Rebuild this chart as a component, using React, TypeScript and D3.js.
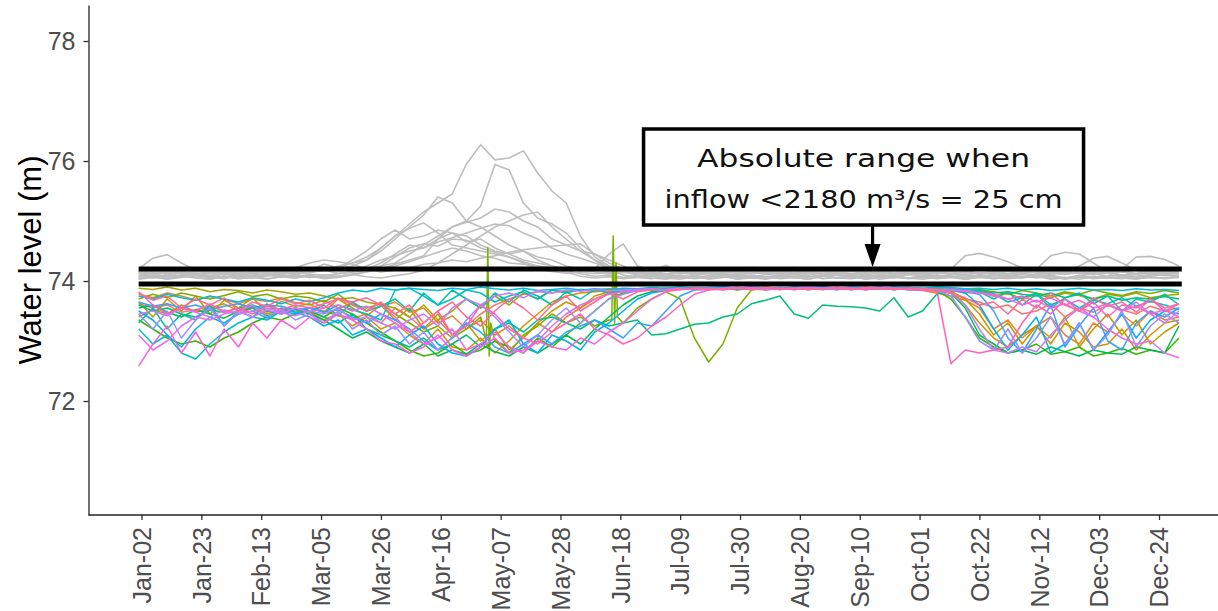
import React, { useEffect, useRef } from 'react';
import * as d3 from 'd3';

// x axis labels, one every 21 days (leap year calendar)
const tickLabels = [
  'Jan-02', 'Jan-23', 'Feb-13', 'Mar-05', 'Mar-26', 'Apr-16', 'May-07', 'May-28', 'Jun-18',
  'Jul-09', 'Jul-30', 'Aug-20', 'Sep-10', 'Oct-01', 'Oct-22', 'Nov-12', 'Dec-03', 'Dec-24',
];
const levelTicks = [72, 74, 76, 78];

// one reading every 5 days, day 1 .. day 366
const readingDays = d3.range(1, 367, 5);

// the "absolute range" band
const rangeLimits = [73.95, 74.2];

// years with high inflow (drawn gray)
const highYear01 = [
  74.10, 74.12, 74.08, 74.14, 74.11, 74.09, 74.13, 74.10, 74.12, 74.08, 74.14, 74.12, 74.15, 74.18, 74.20,
  74.25, 74.35, 74.55, 74.75, 74.95, 75.15, 75.30, 75.45, 75.95, 76.27, 76.02, 76.05, 76.17, 75.80, 75.50, 75.30, 74.75, 74.40, 74.25,
  74.18, 74.15, 74.12, 74.10, 74.13, 74.11, 74.14, 74.12, 74.10, 74.13, 74.15, 74.12, 74.10, 74.14, 74.11, 74.13, 74.12, 74.10, 74.14, 74.12,
  74.11, 74.13, 74.15, 74.12, 74.10, 74.14, 74.12, 74.11, 74.13, 74.10, 74.14, 74.12, 74.15, 74.11, 74.13, 74.10, 74.12, 74.14, 74.11, 74.13,
];
const highYear02 = [
  74.05, 74.08, 74.04, 74.10, 74.06, 74.03, 74.08, 74.05, 74.09, 74.04, 74.07, 74.10, 74.06, 74.08, 74.12, 74.15, 74.20, 74.25,
  74.30, 74.45, 74.60, 74.75, 74.90, 75.00, 75.25, 75.94, 75.85, 75.30, 75.05, 74.95, 74.80, 74.55, 74.35, 74.20,
  74.10, 74.06, 74.04, 74.07, 74.05, 74.08, 74.03, 74.06, 74.09, 74.05, 74.04, 74.07, 74.06, 74.03, 74.08, 74.05, 74.07, 74.04, 74.06, 74.09,
  74.05, 74.03, 74.06, 74.08, 74.05, 74.07, 74.04, 74.06, 74.08, 74.05, 74.07, 74.03, 74.06, 74.08, 74.05, 74.04, 74.07, 74.06, 74.05, 74.08,
];
const highYear03 = [
  74.15, 74.17, 74.14, 74.16, 74.18, 74.15, 74.17, 74.13, 74.16, 74.18, 74.15, 74.17, 74.16, 74.20, 74.25, 74.30,
  74.35, 74.50, 74.70, 74.90, 75.10, 75.40, 75.30, 75.00, 74.90, 74.75, 74.60, 74.50, 74.40, 74.35, 74.25, 74.20,
  74.18, 74.16, 74.15, 74.17, 74.14, 74.16, 74.18, 74.15, 74.17, 74.13, 74.16, 74.18, 74.15, 74.17, 74.14, 74.16, 74.18, 74.15, 74.17, 74.16,
  74.14, 74.18, 74.15, 74.17, 74.16, 74.20,
  74.42, 74.46, 74.40, 74.32, 74.22, 74.17, 74.15, 74.18, 74.16, 74.14, 74.17, 74.15, 74.18, 74.16, 74.14, 74.17,
];
const highYear04 = [
  74.08, 74.11, 74.07, 74.10, 74.13, 74.09, 74.06, 74.11, 74.08, 74.12, 74.09, 74.07, 74.11, 74.10, 74.08, 74.12, 74.15, 74.20, 74.28, 74.35,
  74.42, 74.70, 74.90, 74.98, 75.05, 75.20, 75.15, 75.00, 74.90, 74.70, 74.60, 74.50, 74.35, 74.25, 74.15,
  74.10, 74.08, 74.11, 74.07, 74.09, 74.12, 74.08, 74.10, 74.06, 74.11, 74.09, 74.07, 74.12, 74.08, 74.10, 74.09, 74.07, 74.11, 74.08, 74.10,
  74.12, 74.09, 74.07, 74.10, 74.08, 74.11, 74.09, 74.12, 74.20,
  74.42, 74.48, 74.45, 74.30, 74.15, 74.10, 74.08, 74.11, 74.09, 74.10,
];
const highYear05 = [
  74.13, 74.16, 74.12, 74.15, 74.10, 74.14, 74.17, 74.12, 74.15, 74.13, 74.16, 74.12, 74.14, 74.18,
  74.22, 74.30, 74.40, 74.55, 74.75, 74.88, 74.97, 74.80, 74.60, 74.55, 74.50, 74.45, 74.40, 74.30, 74.20,
  74.16, 74.13, 74.15, 74.12, 74.14, 74.17, 74.13, 74.15, 74.12, 74.16, 74.14, 74.13, 74.15, 74.17, 74.12, 74.14, 74.16, 74.13, 74.15, 74.12,
  74.14, 74.16, 74.13, 74.15, 74.17, 74.12, 74.14, 74.16, 74.13, 74.15, 74.12, 74.14, 74.16, 74.13, 74.15, 74.14, 74.16, 74.25,
  74.38, 74.41, 74.30, 74.18, 74.14, 74.16, 74.13,
];
const highYear06 = [
  74.06, 74.09, 74.05, 74.08, 74.11, 74.07, 74.04, 74.09, 74.06, 74.10, 74.07, 74.05, 74.09, 74.06, 74.08, 74.11, 74.07, 74.05, 74.09, 74.12,
  74.18, 74.30,
  74.45, 74.60, 74.75, 74.90, 75.00, 75.10, 75.15, 74.90, 74.70, 74.50, 74.45, 74.35, 74.25, 74.15,
  74.08, 74.06, 74.09, 74.05, 74.07, 74.10, 74.06, 74.08, 74.05, 74.09, 74.07, 74.06, 74.10, 74.05, 74.08, 74.06, 74.09, 74.07, 74.05, 74.08,
  74.10, 74.06, 74.07, 74.09, 74.05, 74.08, 74.06, 74.10, 74.07, 74.05, 74.09, 74.06, 74.08, 74.20,
  74.40, 74.41, 74.36, 74.25,
];
const highYear07 = [
  74.20, 74.38, 74.44, 74.30, 74.18,
  74.12, 74.15, 74.11, 74.14, 74.16, 74.13, 74.12, 74.15, 74.18, 74.22,
  74.35, 74.50, 74.70, 74.85, 74.70, 74.75, 74.85, 74.80, 74.75, 74.60, 74.50, 74.45, 74.35, 74.30, 74.25, 74.20, 74.18,
  74.15, 74.12, 74.14, 74.16, 74.13, 74.11, 74.15, 74.12, 74.14, 74.16, 74.13, 74.15, 74.12, 74.14, 74.11, 74.16, 74.13, 74.15, 74.12, 74.14,
  74.16, 74.13, 74.15, 74.12, 74.14, 74.11, 74.15, 74.13, 74.16, 74.12, 74.14, 74.15, 74.13, 74.11, 74.14, 74.16, 74.13, 74.15, 74.12, 74.14,
  74.13, 74.15,
];
const highYear08 = [
  74.03, 74.06, 74.04, 74.08, 74.05, 74.03, 74.07, 74.04, 74.06, 74.09, 74.12,
  74.22, 74.30, 74.35, 74.32, 74.28, 74.20,
  74.15, 74.18, 74.22, 74.28, 74.30, 74.35, 74.32, 74.38, 74.42,
  74.48, 74.52, 74.55, 74.58, 74.60, 74.62, 74.45, 74.30, 74.20,
  74.10, 74.05, 74.03, 74.07, 74.04, 74.06, 74.08, 74.03, 74.05, 74.07, 74.04, 74.06, 74.03, 74.08, 74.05, 74.04, 74.07, 74.03, 74.06, 74.05,
  74.08, 74.04, 74.06, 74.03, 74.07, 74.05, 74.04, 74.06, 74.08, 74.03, 74.05, 74.07, 74.04, 74.06, 74.05, 74.03, 74.07, 74.04, 74.06,
];
const highYear09 = [
  74.17, 74.14, 74.16, 74.13, 74.15, 74.18, 74.14, 74.16, 74.13, 74.17, 74.15, 74.14, 74.16, 74.18, 74.13, 74.15, 74.17, 74.20, 74.25, 74.32,
  74.40, 74.48, 74.55, 74.50, 74.42, 74.38, 74.30, 74.28, 74.25, 74.22, 74.20, 74.18, 74.20,
  74.45, 74.62, 74.25, 74.18, 74.26,
  74.15, 74.17, 74.14, 74.16, 74.13, 74.18, 74.15, 74.14, 74.17, 74.13, 74.16, 74.15, 74.18, 74.14, 74.16, 74.13, 74.17, 74.15, 74.14, 74.16,
  74.18, 74.13, 74.15, 74.17, 74.14, 74.16, 74.13, 74.15, 74.18, 74.14, 74.16, 74.15, 74.13, 74.17, 74.14, 74.16,
];
const highYear10 = [
  74.09, 74.05, 74.11, 74.07, 74.10, 74.06, 74.12, 74.08, 74.05, 74.10, 74.07, 74.11, 74.06, 74.09, 74.12, 74.15, 74.20,
  74.30, 74.45, 74.60, 74.55, 74.70, 74.80, 74.65, 74.70, 74.55, 74.45, 74.50, 74.35, 74.25, 74.18,
  74.12, 74.08, 74.10, 74.06, 74.09, 74.11, 74.07, 74.10, 74.05, 74.09, 74.12, 74.07, 74.10, 74.06, 74.08, 74.11, 74.07, 74.09, 74.12, 74.06,
  74.10, 74.08, 74.05, 74.11, 74.09, 74.07, 74.10, 74.12, 74.06, 74.09, 74.08, 74.11, 74.07, 74.10, 74.05, 74.09, 74.12, 74.08, 74.10, 74.06,
  74.09, 74.11, 74.08,
];
const highYear11 = [
  74.14, 74.11, 74.15, 74.12, 74.16, 74.13, 74.10, 74.14, 74.12, 74.15, 74.11, 74.14, 74.18,
  74.28, 74.22, 74.18, 74.25, 74.35, 74.42, 74.50, 74.55, 74.65, 74.72, 74.80, 74.88, 74.95, 74.92, 74.80, 74.70, 74.55, 74.45, 74.38, 74.30,
  74.22, 74.16,
  74.12, 74.15, 74.11, 74.14, 74.13, 74.16, 74.12, 74.10, 74.14, 74.15, 74.11, 74.13, 74.16, 74.12, 74.14, 74.10, 74.15, 74.13, 74.11, 74.14,
  74.16, 74.12, 74.13, 74.15, 74.11, 74.14, 74.12, 74.16, 74.13, 74.11, 74.15, 74.12, 74.14, 74.13, 74.16, 74.11, 74.14, 74.12, 74.15,
];
const highYear12 = [
  74.04, 74.07, 74.03, 74.06, 74.09, 74.05, 74.08, 74.04, 74.06, 74.03, 74.07, 74.05, 74.09, 74.04, 74.06, 74.10, 74.15,
  74.25, 74.40, 74.55, 74.62, 74.58, 74.70, 74.68, 74.55, 74.48, 74.40, 74.32, 74.25, 74.20, 74.15,
  74.08, 74.05, 74.07, 74.04, 74.06, 74.09, 74.05, 74.03, 74.07, 74.05, 74.08, 74.04, 74.06, 74.03, 74.07, 74.05, 74.09, 74.04, 74.06, 74.08,
  74.03, 74.05, 74.07, 74.04, 74.06, 74.05, 74.08, 74.03, 74.06, 74.04, 74.07, 74.05, 74.09, 74.04, 74.06, 74.03, 74.07, 74.05, 74.08, 74.04,
  74.06, 74.05, 74.07,
];

// years with low inflow (drawn in colour)
const lowYear01 = [
  73.62, 73.55, 73.60, 73.48, 73.52, 73.58, 73.50, 73.45, 73.55, 73.60, 73.52, 73.48,
  73.55, 73.50, 73.42, 73.38, 73.45, 73.30,
  73.55, 73.40, 73.20, 73.35, 73.10, 73.25, 73.45, 73.60, 73.70, 73.78, 73.82, 73.80, 73.84, 73.85, 73.83, 73.86, 73.85, 73.87, 73.86, 73.88,
  73.86, 73.88, 73.87, 73.89, 73.88, 73.90, 73.88, 73.87, 73.89, 73.90, 73.88, 73.86, 73.88, 73.89, 73.87, 73.88, 73.86,
  73.85, 73.82, 73.80, 73.70, 73.65,
  73.55, 73.60, 73.45, 73.50, 73.62, 73.40, 73.55, 73.48, 73.60, 73.52, 73.45, 73.58, 73.50, 73.55,
];
const lowYear02 = [
  73.78, 73.72, 73.80, 73.75, 73.68, 73.74, 73.70, 73.62, 73.70, 73.66, 73.72, 73.64,
  73.60, 73.68, 73.55, 73.62, 73.50, 73.58,
  73.65, 73.48, 73.55, 73.30, 73.42, 73.20, 73.35, 73.10, 73.25, 73.05, 73.30, 73.15, 73.40, 73.55, 73.70, 73.80, 73.82, 73.84, 73.86, 73.85,
  73.88, 73.86, 73.89, 73.87, 73.88, 73.86, 73.89, 73.88, 73.87, 73.86, 73.88, 73.87, 73.89, 73.86, 73.88, 73.87, 73.86,
  73.84, 73.80, 73.75, 73.68, 73.55,
  73.20, 73.35, 73.05, 73.25, 73.40, 73.10, 72.95, 73.30, 73.15, 73.45, 73.25, 73.50, 73.35, 73.40,
];
const lowYear03 = [
  73.40, 73.52, 73.45, 73.60, 73.48, 73.55, 73.62, 73.50, 73.58, 73.45, 73.52, 73.55,
  73.48, 73.35, 73.45, 73.25, 73.40, 73.20,
  73.30, 73.10, 72.95, 73.20, 72.90, 72.85, 73.05, 72.80, 73.00, 73.25, 73.45, 73.65, 73.75, 73.80, 73.82, 73.84, 73.85, 73.86, 73.85, 73.87,
  73.87, 73.89, 73.88, 73.86, 73.88, 73.87, 73.85, 73.88, 73.89, 73.87, 73.86, 73.88, 73.87, 73.89, 73.88, 73.86, 73.87,
  73.86, 73.85, 73.84, 73.60, 73.30,
  73.05, 72.90, 73.10, 73.25, 72.95, 73.30, 73.15, 72.90, 72.95, 73.20, 72.85, 73.10, 73.30, 73.35,
];
const lowYear17 = [
  73.65, 73.40, 73.70, 73.50, 73.75, 73.45, 73.68, 73.55, 73.72, 73.48, 73.66, 73.58,
  73.62, 73.48, 73.70, 73.55, 73.42, 73.60,
  73.35, 73.55, 73.20, 73.45, 73.10, 73.30, 73.00, 73.20, 72.85, 73.05, 73.30, 73.50, 73.65, 73.55, 73.75, 73.82, 73.85, 73.84, 73.86, 73.87,
  73.88, 73.86, 73.87, 73.89, 73.85, 73.88, 73.87, 73.86, 73.89, 73.87, 73.88, 73.86, 73.88, 73.87, 73.89, 73.86, 73.88,
  73.85, 73.86, 73.83, 73.70, 73.45,
  73.10, 73.30, 72.95, 73.25, 73.05, 73.40, 72.90, 73.20, 73.45, 73.10, 73.35, 72.95, 73.15, 73.30,
];
const lowYear04 = [
  73.88, 73.86, 73.90, 73.85, 73.88, 73.82, 73.86, 73.84, 73.80, 73.85, 73.82, 73.78,
  73.80, 73.75, 73.70, 73.72, 73.65, 73.60,
  73.55, 73.40, 73.60, 73.35, 73.50, 73.70, 73.55, 73.75, 73.60, 73.80, 73.70, 73.85, 73.82, 73.86, 73.84, 73.87, 73.85, 73.86, 73.88, 73.87,
  73.87, 73.88, 73.86, 73.89, 73.87, 73.88, 73.90, 73.87, 73.86, 73.88, 73.89, 73.87, 73.88, 73.86, 73.87, 73.89, 73.88,
  73.86, 73.84, 73.85, 73.80, 73.82,
  73.75, 73.80, 73.70, 73.78, 73.72, 73.80, 73.76, 73.70, 73.78, 73.74, 73.80, 73.72, 73.76, 73.78,
];
const lowYear05 = [
  73.70, 73.78, 73.72, 73.80, 73.75, 73.70, 73.76, 73.82, 73.74, 73.78, 73.70, 73.75,
  73.72, 73.65, 73.78, 73.60, 73.55, 73.62,
  73.45, 73.30, 73.15, 73.25, 73.05, 73.20, 73.40, 73.00, 72.80, 73.10, 73.25, 73.45, 73.30, 73.40, 73.25, 73.35, 73.30, 73.55, 73.70, 73.82,
  73.70, 73.05, 72.65, 72.95, 73.55, 73.85, 73.88, 73.87, 73.89, 73.88, 73.86, 73.88, 73.87, 73.89, 73.88, 73.86, 73.88,
  73.86, 73.88, 73.85, 73.84, 73.86,
  73.82, 73.78, 73.84, 73.80, 73.75, 73.82, 73.78, 73.85, 73.80, 73.76, 73.82, 73.79, 73.84, 73.80,
];
// short spikes in the fifth low year, [day, level]
const spikePoints = [
  [123, 73.0], [123.5, 74.56], [124, 72.75], [124.5, 73.3],
  [167, 73.35], [167.5, 74.75], [168, 73.3], [168.5, 74.3], [169, 73.4],
];
const lowYear06 = [
  73.35, 73.20, 73.05, 72.95, 73.00, 72.90, 73.05, 73.15, 73.30, 73.40, 73.35, 73.45,
  73.50, 73.40, 73.55, 73.45, 73.30, 73.15,
  73.00, 72.85, 72.75, 72.80, 72.95, 72.78, 72.85, 73.00, 72.90, 72.80, 73.05, 72.90, 73.10, 73.30, 73.50, 73.70, 73.80, 73.84, 73.86, 73.87,
  73.88, 73.87, 73.89, 73.88, 73.86, 73.88, 73.89, 73.87, 73.88, 73.86, 73.89, 73.88, 73.87, 73.86, 73.88, 73.87, 73.89,
  73.86, 73.84, 73.70, 73.40, 73.05,
  72.90, 72.80, 72.85, 72.95, 72.78, 72.82, 72.90, 72.75, 72.80, 72.88, 72.78, 72.85, 72.80, 73.05,
];
const lowYear07 = [
  73.55, 73.60, 73.48, 73.40, 73.52, 73.45, 73.38, 73.50, 73.55, 73.42, 73.48, 73.52,
  73.45, 73.35, 73.20, 73.05, 73.15, 73.00,
  72.90, 72.80, 72.95, 72.75, 72.85, 72.78, 72.95, 72.82, 72.75, 72.90, 72.80, 72.95, 73.10, 72.95, 73.20, 73.40, 73.60, 73.75, 73.82, 73.85,
  73.87, 73.88, 73.86, 73.88, 73.89, 73.87, 73.88, 73.86, 73.89, 73.88, 73.87, 73.88, 73.86, 73.87, 73.88, 73.89, 73.87,
  73.86, 73.85, 73.80, 73.55, 73.10,
  72.95, 72.80, 72.85, 72.78, 72.90, 72.82, 72.75, 72.85, 72.80, 72.78, 72.90, 72.85, 72.80, 73.25,
];
const lowYear08 = [
  73.60, 73.50, 73.55, 73.45, 73.40, 73.52, 73.48, 73.55, 73.60, 73.50, 73.45, 73.55,
  73.50, 73.40, 73.30, 73.45, 73.20, 73.10,
  73.00, 72.90, 73.05, 72.85, 72.95, 73.10, 72.90, 73.20, 73.30, 73.15, 73.35, 73.40, 73.30, 73.20, 73.35, 73.25, 73.30, 73.35, 73.10, 73.12,
  73.20, 73.28, 73.30, 73.40, 73.45, 73.62, 73.68, 73.75, 73.45, 73.38, 73.60, 73.58, 73.57, 73.55, 73.50, 73.72, 73.40,
  73.50, 73.78, 73.86, 73.85, 73.84,
  73.80, 73.82, 73.78, 73.75, 73.80, 73.72, 73.78, 73.70, 73.75, 73.68, 73.72, 73.70, 73.74, 73.70,
];
const lowYear18 = [
  73.30, 73.55, 73.20, 73.45, 73.35, 73.60, 73.25, 73.50, 73.40, 73.62, 73.45, 73.55,
  73.48, 73.60, 73.42, 73.65, 73.50, 73.58,
  73.70, 73.50, 73.80, 73.60, 73.85, 73.70, 73.55, 73.80, 73.65, 73.85, 73.75, 73.60, 73.82, 73.70, 73.86, 73.80, 73.85, 73.87, 73.86, 73.88,
  73.89, 73.87, 73.88, 73.90, 73.86, 73.89, 73.88, 73.87, 73.90, 73.88, 73.86, 73.89, 73.87, 73.88, 73.90, 73.87, 73.89,
  73.88, 73.86, 73.87, 73.85, 73.82,
  73.70, 73.82, 73.60, 73.78, 73.55, 73.72, 73.80, 73.62, 73.75, 73.50, 73.70, 73.65, 73.78, 73.60,
];
const lowYear09 = [
  73.20, 72.95, 73.10, 72.80, 72.70, 72.95, 73.15, 73.30, 73.40, 73.35, 73.50, 73.45,
  73.55, 73.48, 73.60, 73.52, 73.45, 73.35,
  73.85, 73.88, 73.75, 73.60, 73.70, 73.85, 73.80, 73.65, 73.75, 73.82, 73.70, 73.85, 73.80, 73.86, 73.84, 73.85, 73.86, 73.87, 73.85, 73.86,
  73.86, 73.88, 73.87, 73.89, 73.86, 73.88, 73.87, 73.89, 73.86, 73.88, 73.87, 73.86, 73.89, 73.88, 73.87, 73.86, 73.88,
  73.87, 73.85, 73.86, 73.84, 73.82,
  73.78, 73.65, 73.72, 73.80, 73.60, 73.70, 73.55, 73.68, 73.62, 73.72, 73.58, 73.66, 73.60, 73.52,
];
const lowYear10 = [
  73.75, 73.70, 73.78, 73.72, 73.68, 73.75, 73.70, 73.65, 73.72, 73.68, 73.62, 73.70,
  73.65, 73.72, 73.80, 73.85, 73.82, 73.88,
  73.85, 73.88, 73.86, 73.84, 73.88, 73.86, 73.90, 73.87, 73.85, 73.88, 73.84, 73.86, 73.88, 73.85, 73.87, 73.86, 73.88, 73.87, 73.89, 73.88,
  73.90, 73.88, 73.89, 73.91, 73.88, 73.90, 73.89, 73.88, 73.90, 73.89, 73.91, 73.88, 73.90, 73.89, 73.88, 73.90, 73.89,
  73.88, 73.90, 73.89, 73.87, 73.88,
  73.86, 73.88, 73.85, 73.87, 73.84, 73.86, 73.88, 73.85, 73.86, 73.84, 73.87, 73.85, 73.86, 73.84,
];
const lowYear11 = [
  73.50, 73.35, 73.10, 72.90, 73.20, 73.40, 73.30, 73.45, 73.50, 73.38, 73.55, 73.48,
  73.40, 73.25, 73.35, 73.10, 73.20, 73.05,
  72.90, 73.10, 73.25, 72.95, 72.80, 72.75, 72.90, 73.20, 73.35, 72.95, 72.80, 73.10, 73.00, 72.85, 73.15, 73.30, 73.50, 73.70, 73.80, 73.84,
  73.87, 73.88, 73.86, 73.89, 73.87, 73.88, 73.86, 73.87, 73.89, 73.88, 73.87, 73.86, 73.88, 73.87, 73.89, 73.86, 73.88,
  73.86, 73.84, 73.85, 73.80, 73.60,
  73.20, 72.85, 73.10, 73.40, 72.80, 72.95, 73.30, 72.85, 73.15, 73.45, 73.05, 73.35, 73.50, 73.45,
];
const lowYear12 = [
  73.65, 73.58, 73.62, 73.55, 73.60, 73.52, 73.58, 73.62, 73.55, 73.60, 73.58, 73.52,
  73.55, 73.48, 73.52, 73.40, 73.30, 73.45,
  73.35, 73.20, 73.00, 72.85, 73.05, 73.30, 73.15, 72.90, 72.80, 72.95, 73.10, 72.95, 73.15, 73.25, 73.35, 73.20, 73.05, 73.30, 73.25, 73.50,
  73.75, 73.85, 73.86, 73.88, 73.87, 73.89, 73.86, 73.88, 73.87, 73.86, 73.88, 73.87, 73.89, 73.86, 73.88, 73.87, 73.86,
  73.85, 73.86, 73.84, 73.82, 73.78,
  73.50, 73.05, 72.80, 73.20, 73.60, 72.90, 73.25, 73.55, 73.00, 72.85, 73.30, 73.50, 73.40, 73.55,
];
const lowYear19 = [
  73.45, 73.20, 73.50, 73.05, 73.35, 73.55, 73.25, 73.48, 73.60, 73.40, 73.52, 73.35,
  73.45, 73.30, 73.50, 73.20, 73.35, 73.10,
  73.25, 72.95, 73.15, 72.85, 73.05, 73.35, 73.60, 73.40, 73.15, 72.90, 73.10, 73.35, 73.55, 73.30, 73.50, 73.70, 73.78, 73.84, 73.86, 73.85,
  73.87, 73.86, 73.88, 73.87, 73.89, 73.86, 73.88, 73.87, 73.86, 73.89, 73.87, 73.88, 73.86, 73.87, 73.89, 73.88, 73.86,
  73.86, 73.84, 73.75, 73.40, 73.00,
  72.85, 73.20, 72.80, 73.05, 73.40, 72.95, 73.30, 72.85, 73.10, 73.50, 72.90, 73.25, 73.45, 73.30,
];
const lowYear13 = [
  73.45, 73.50, 73.42, 73.55, 73.48, 73.40, 73.52, 73.45, 73.50, 73.55, 73.48, 73.42,
  73.50, 73.45, 73.55, 73.35, 73.40, 73.30,
  73.20, 73.35, 73.45, 73.25, 73.55, 73.70, 73.60, 73.75, 73.80, 73.72, 73.84, 73.80, 73.85, 73.83, 73.86, 73.84, 73.85, 73.86, 73.87, 73.85,
  73.87, 73.86, 73.88, 73.87, 73.89, 73.88, 73.86, 73.87, 73.88, 73.89, 73.87, 73.86, 73.88, 73.87, 73.88, 73.86, 73.87,
  73.86, 73.85, 73.80, 73.60, 73.20,
  72.85, 72.80, 72.90, 72.82, 73.10, 73.35, 73.55, 73.40, 73.60, 73.50, 73.65, 73.45, 73.30, 73.50,
];
const lowYear14 = [
  73.10, 72.85, 73.00, 73.25, 73.40, 73.35, 73.45, 73.50, 73.40, 73.52, 73.45, 73.55,
  73.48, 73.55, 73.60, 73.50, 73.58, 73.45,
  73.30, 73.15, 72.95, 73.05, 73.20, 72.85, 72.95, 73.15, 72.90, 72.80, 73.00, 73.25, 73.45, 73.60, 73.70, 73.78, 73.82, 73.84, 73.85, 73.86,
  73.88, 73.87, 73.86, 73.88, 73.89, 73.87, 73.88, 73.86, 73.87, 73.89, 73.88, 73.87, 73.86, 73.88, 73.89, 73.87, 73.88,
  73.87, 73.86, 73.85, 73.84, 73.80,
  73.75, 73.70, 73.60, 73.68, 73.55, 73.62, 73.50, 73.40, 73.20, 73.05, 72.95, 73.00, 72.80, 72.72,
];
const lowYear15 = [
  72.58, 72.95, 73.25, 72.80, 73.15, 72.75, 73.20, 72.90, 73.30, 73.05, 73.35, 73.20,
  73.40, 73.30, 73.45, 73.35, 73.20, 73.00,
  72.95, 72.80, 72.90, 73.10, 72.85, 72.75, 72.90, 73.05, 72.80, 72.85, 73.00, 72.90, 72.85, 73.05, 72.95, 73.15, 73.30, 73.50, 73.70, 73.82,
  73.86, 73.88, 73.87, 73.86, 73.88, 73.89, 73.87, 73.88, 73.86, 73.87, 73.88, 73.89, 73.87, 73.86, 73.88, 73.87, 73.86,
  73.85, 73.84, 73.86, 73.83, 73.80,
  73.78, 73.70, 73.75, 73.65, 73.72, 73.60, 73.68, 73.55, 73.62, 73.50, 73.58, 73.45, 73.52, 73.40,
];
const lowYear16 = [
  73.82, 73.60, 73.45, 73.55, 73.50, 73.62, 73.48, 73.55, 73.45, 73.58, 73.52, 73.60,
  73.55, 73.62, 73.70, 73.65, 73.72, 73.60,
  73.40, 73.15, 73.30, 73.50, 73.10, 73.25, 73.60, 73.45, 73.20, 73.05, 72.95, 73.15, 73.30, 73.45, 73.20, 73.10, 72.95, 73.05, 73.25, 73.40,
  73.60, 73.78, 73.85, 73.87, 73.88, 73.86, 73.89, 73.87, 73.88, 73.86, 73.87, 73.89, 73.88, 73.86, 73.87, 73.88, 73.87,
  73.86, 73.85, 72.62, 72.85, 72.80,
  72.85, 72.90, 73.30, 73.60, 73.45, 73.70, 73.50, 73.65, 73.40, 73.60, 73.55, 73.70, 73.50, 73.62,
];
const lowYear20 = [
  73.80, 73.68, 73.75, 73.55, 73.70, 73.60, 73.72, 73.50, 73.65, 73.58, 73.70, 73.62,
  73.68, 73.55, 73.72, 73.60, 73.50, 73.65,
  73.45, 73.60, 73.30, 73.50, 73.65, 73.40, 73.25, 73.50, 73.70, 73.55, 73.35, 73.60, 73.75, 73.50, 73.65, 73.80, 73.70, 73.82, 73.85, 73.84,
  73.86, 73.88, 73.87, 73.85, 73.88, 73.86, 73.89, 73.87, 73.88, 73.86, 73.87, 73.88, 73.86, 73.89, 73.87, 73.86, 73.88,
  73.87, 73.85, 73.80, 73.72, 73.60,
  73.65, 73.45, 73.70, 73.55, 73.80, 73.60, 73.50, 73.72, 73.58, 73.65, 73.48, 73.70, 73.55, 73.62,
];

const highYears = [
  highYear01, highYear02, highYear03, highYear04, highYear05, highYear06,
  highYear07, highYear08, highYear09, highYear10, highYear11, highYear12,
];
// ordered by colour
const lowYears = [
  lowYear01, lowYear02, lowYear03, lowYear17, lowYear04, lowYear05, lowYear06, lowYear07, lowYear08, lowYear18,
  lowYear09, lowYear10, lowYear11, lowYear12, lowYear19, lowYear13, lowYear14, lowYear15, lowYear16, lowYear20,
];

const toDate = (day: number) => new Date(Date.UTC(2020, 0, 1) + (day - 1) * 864e5);

// ggplot-like hue colour (polar Luv, C = 100, L = 65)
const hueColour = (h: number) => {
  const L = 65, C = 100;
  const u = C * Math.cos(h * Math.PI / 180);
  const v = C * Math.sin(h * Math.PI / 180);
  const Xn = 0.95047, Zn = 1.08883;
  const den = Xn + 15 + 3 * Zn;
  const up = u / (13 * L) + 4 * Xn / den;
  const vp = v / (13 * L) + 9 / den;
  const Y = Math.pow((L + 16) / 116, 3);
  const X = Y * 9 * up / (4 * vp);
  const Z = Y * (12 - 3 * up - 20 * vp) / (4 * vp);
  const gam = (c: number) => {
    c = Math.max(0, Math.min(1, c));
    return 255 * (c <= 0.0031308 ? 12.92 * c : 1.055 * Math.pow(c, 1 / 2.4) - 0.055);
  };
  return d3.rgb(
    gam(3.2404542 * X - 1.5371385 * Y - 0.4985314 * Z),
    gam(-0.969266 * X + 1.8760108 * Y + 0.041556 * Z),
    gam(0.0556434 * X - 0.2040259 * Y + 1.0572252 * Z),
  ).formatHex();
};

const App = () => {
  const svgRef = useRef<SVGSVGElement>(null);

  useEffect(() => {
    const svg = d3.select(svgRef.current);
    svg.selectAll('*').remove();
    const width = 1218;
    const axisFont = '"Liberation Sans", Arial, sans-serif';

    const parseTick = d3.utcParse('%Y-%b-%d');
    const tickDates = tickLabels.map(t => parseTick('2020-' + t) as Date);

    const xScale = d3.scaleUtc()
      .domain([tickDates[0], tickDates[tickDates.length - 1]])
      .range([141.5, 1159]);
    const yScale = d3.scaleLinear()
      .domain([70.1, 78.6])
      .range([515, 5]);

    const line = d3.line<[number, number]>()
      .defined(d => d[1] != null)
      .x(d => xScale(toDate(d[0])))
      .y(d => yScale(d[1]));

    const g = svg.append('g');

    highYears.forEach(levels => {
      g.append('path')
        .attr('d', line(readingDays.map((d, i) => [d, levels[i]] as [number, number])))
        .attr('fill', 'none')
        .attr('stroke', '#BEBEBE')
        .attr('stroke-width', 1.6);
    });

    lowYears.forEach((levels, k) => {
      let pts = readingDays.map((d, i) => [d, levels[i]] as [number, number]);
      if (levels === lowYear05) pts = pts.concat(spikePoints as [number, number][]).sort((a, b) => a[0] - b[0]);
      g.append('path')
        .attr('d', line(pts))
        .attr('fill', 'none')
        .attr('stroke', hueColour(15 + k * 360 / lowYears.length))
        .attr('stroke-width', 1.5)
        .attr('stroke-linejoin', 'round');
    });

    // range limits
    rangeLimits.forEach(v => {
      g.append('line')
        .attr('x1', xScale(toDate(1)))
        .attr('x2', xScale(toDate(367)))
        .attr('y1', yScale(v))
        .attr('y2', yScale(v))
        .attr('stroke', 'black')
        .attr('stroke-width', 5);
    });

    // axes
    const yAxis = svg.append('g')
      .attr('transform', 'translate(88.5,0)')
      .call(d3.axisLeft(yScale).tickValues(levelTicks).tickSize(5).tickSizeOuter(0).tickPadding(8).tickFormat(d3.format('d')));
    yAxis.select('.domain').attr('stroke', '#222').attr('stroke-width', 1.3);
    yAxis.selectAll('.tick line').attr('stroke', '#333').attr('stroke-width', 1.3);
    yAxis.selectAll('text')
      .attr('fill', '#4D4D4D')
      .style('font-family', axisFont)
      .style('font-size', '25px');

    const xAxis = svg.append('g')
      .attr('transform', 'translate(0,515)')
      .call(d3.axisBottom(xScale).tickValues(tickDates).tickSize(5).tickSizeOuter(0)
        .tickFormat((_, i) => tickLabels[i]));
    xAxis.select('.domain').remove();
    xAxis.append('line')
      .attr('x1', 88.5).attr('x2', width)
      .attr('stroke', '#222').attr('stroke-width', 1.3);
    xAxis.selectAll('.tick line').attr('stroke', '#333').attr('stroke-width', 1.3);
    xAxis.selectAll('text')
      .attr('transform', 'rotate(-90)')
      .attr('text-anchor', 'end')
      .attr('x', -12)
      .attr('y', 0)
      .attr('dy', '0.35em')
      .attr('fill', '#4D4D4D')
      .style('font-family', axisFont)
      .style('font-size', '25px');

    svg.append('text')
      .attr('transform', `translate(30,${yScale(74.35)}) rotate(-90)`)
      .attr('text-anchor', 'middle')
      .attr('dy', '0.35em')
      .style('font-family', axisFont)
      .style('font-size', '31px')
      .text('Water level (m)');

    // annotation box with arrow
    const arrowX = xScale(toDate(258.5));
    const boxX = arrowX - 229;
    const ann = svg.append('g');
    ann.append('line')
      .attr('x1', arrowX).attr('x2', arrowX)
      .attr('y1', 225).attr('y2', 246)
      .attr('stroke', 'black').attr('stroke-width', 3.2);
    ann.append('path')
      .attr('d', `M${arrowX - 8},244 L${arrowX + 8},244 L${arrowX},${yScale(74.2) - 2} Z`)
      .attr('fill', 'black');
    ann.append('rect')
      .attr('x', boxX).attr('y', 129)
      .attr('width', 440).attr('height', 96)
      .attr('fill', 'white')
      .attr('stroke', 'black')
      .attr('stroke-width', 3.5);
    const annText = ann.append('text')
      .attr('text-anchor', 'middle')
      .style('font-family', '"DejaVu Sans", sans-serif')
      .style('font-size', '25px')
      .attr('fill', '#111');
    annText.append('tspan')
      .attr('x', boxX + 220).attr('y', 167)
      .attr('textLength', 333)
      .attr('lengthAdjust', 'spacingAndGlyphs')
      .text('Absolute range when');
    annText.append('tspan')
      .attr('x', boxX + 220).attr('y', 208)
      .attr('textLength', 398)
      .attr('lengthAdjust', 'spacingAndGlyphs')
      .text('inflow <2180 m³/s = 25 cm');
  }, []);

  return (
    <svg
      ref={svgRef}
      width={1218}
      height={611}
      style={{ position: 'absolute', left: 0, top: 0, background: 'white' }}
    />
  );
};

export default App;
